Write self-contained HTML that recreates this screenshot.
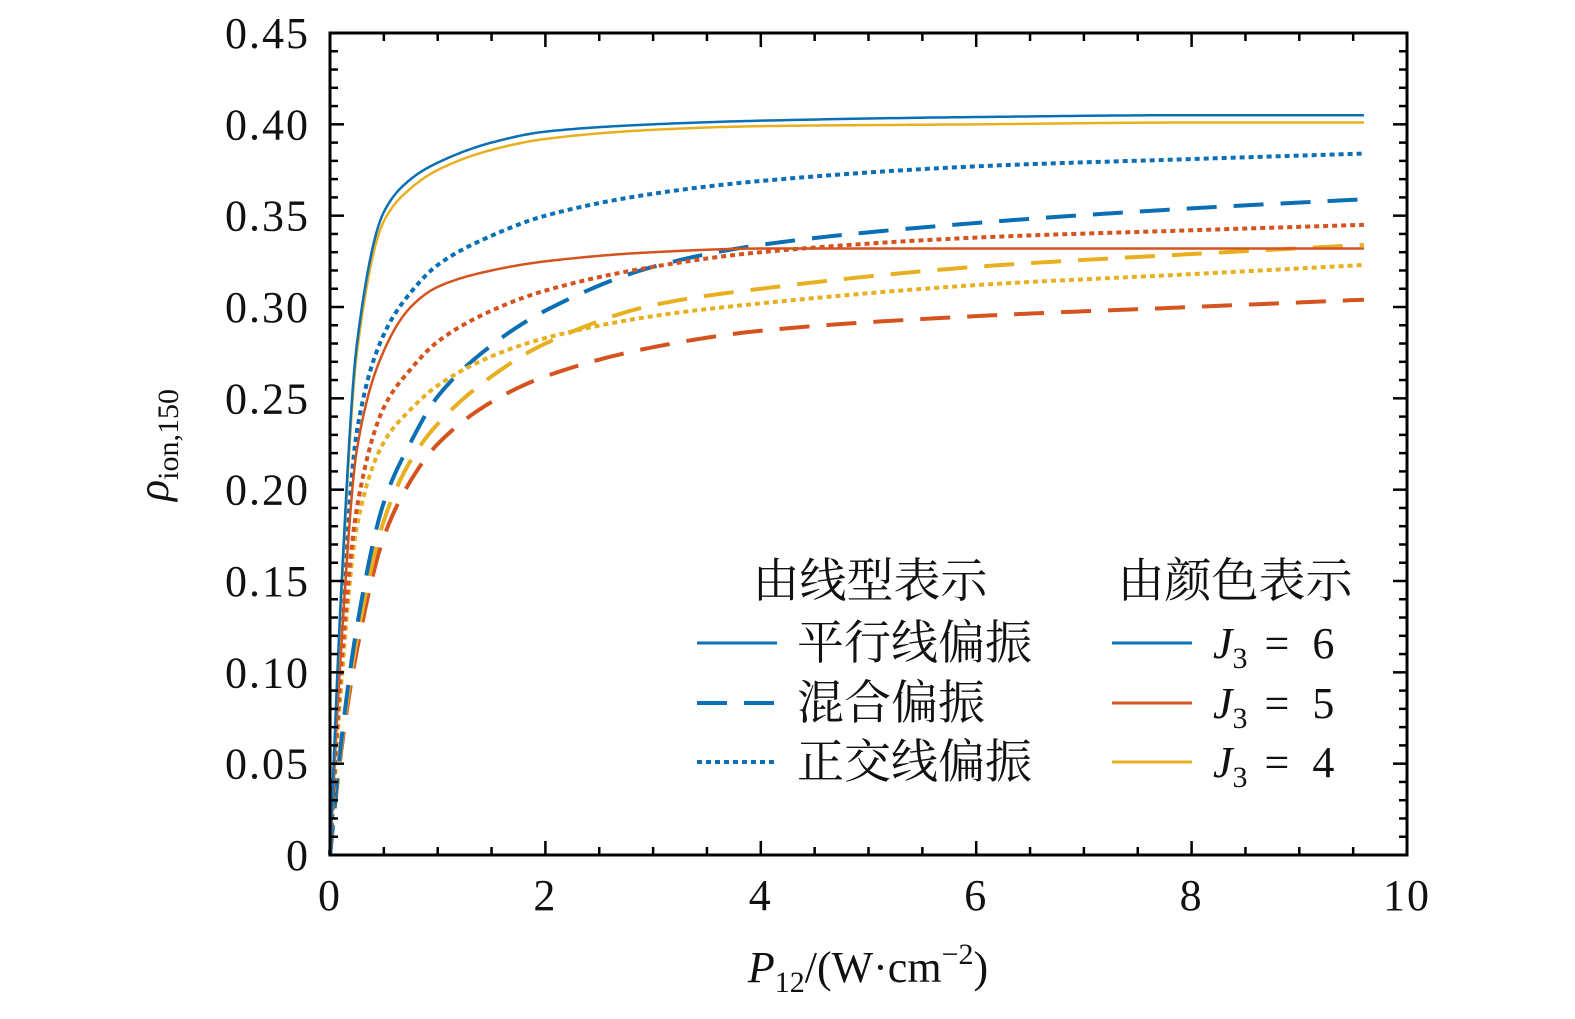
<!DOCTYPE html>
<html><head><meta charset="utf-8"><style>
html,body{margin:0;padding:0;background:#fff;}
svg text{font-family:"Liberation Serif","Noto Serif CJK SC",serif;fill:#111;}
</style></head><body>
<svg id="chart" width="1575" height="1014" viewBox="0 0 1575 1014" xmlns="http://www.w3.org/2000/svg">
<g id="plot"></g>
<g id="axes"></g>
<g id="legend">
<text x="870" y="597" font-size="47" text-anchor="middle">由线型表示</text>
<text x="1235" y="597" font-size="47" text-anchor="middle">由颜色表示</text>
<line x1="697" y1="643" x2="777" y2="643" stroke="#0a6fb5" stroke-width="3"/>
<line x1="697" y1="703" x2="777" y2="703" stroke="#0a6fb5" stroke-width="4" stroke-dasharray="30,17"/>
<line x1="697" y1="762" x2="777" y2="762" stroke="#0a6fb5" stroke-width="4" stroke-dasharray="5,4"/>
<text x="797" y="659" font-size="47">平行线偏振</text>
<text x="797" y="719" font-size="47">混合偏振</text>
<text x="797" y="778" font-size="47">正交线偏振</text>
<line x1="1112" y1="643" x2="1192" y2="643" stroke="#0a6fb5" stroke-width="3"/>
<line x1="1112" y1="703" x2="1192" y2="703" stroke="#d4531f" stroke-width="3"/>
<line x1="1112" y1="762" x2="1192" y2="762" stroke="#e8b020" stroke-width="3"/>
<text x="1213" y="658" font-size="44" font-style="italic">J<tspan font-size="30" font-style="normal" dy="10">3</tspan><tspan font-style="normal" dy="-10" letter-spacing="6"> = 6</tspan></text>
<text x="1213" y="718" font-size="44" font-style="italic">J<tspan font-size="30" font-style="normal" dy="10">3</tspan><tspan font-style="normal" dy="-10" letter-spacing="6"> = 5</tspan></text>
<text x="1213" y="777" font-size="44" font-style="italic">J<tspan font-size="30" font-style="normal" dy="10">3</tspan><tspan font-style="normal" dy="-10" letter-spacing="6"> = 4</tspan></text>
</g>
<text x="868" y="982" font-size="44" text-anchor="middle"><tspan font-style="italic">P</tspan><tspan font-size="30" dy="10">12</tspan><tspan dy="-10">/(W·cm</tspan><tspan font-size="30" dy="-18">−2</tspan><tspan dy="18">)</tspan></text>
<text transform="translate(168,445) rotate(-90)" font-size="44" text-anchor="middle"><tspan font-style="italic">ρ</tspan><tspan font-size="30" dy="10">ion,150</tspan></text>
</svg>
<script>
const xs = [0, 0.1, 0.25, 0.5, 0.75, 1, 1.5, 2, 3, 4, 6, 8, 9.6];
const parJ6 = [0, 0.14, 0.28, 0.352, 0.370, 0.379, 0.390, 0.396, 0.400, 0.402, 0.404, 0.405, 0.405];
const parJ5 = [0, 0.11, 0.222, 0.276, 0.300, 0.311, 0.320, 0.325, 0.330, 0.332, 0.332, 0.332, 0.332];
const parJ4 = [0, 0.135, 0.275, 0.347, 0.365, 0.375, 0.386, 0.392, 0.397, 0.399, 0.400, 0.401, 0.401];
const mixJ6 = [0, 0.06, 0.125, 0.193, 0.226, 0.251, 0.279, 0.298, 0.322, 0.334, 0.346, 0.354, 0.359];
const mixJ5 = [0, 0.055, 0.112, 0.174, 0.205, 0.225, 0.248, 0.262, 0.278, 0.287, 0.295, 0.300, 0.304];
const mixJ4 = [0, 0.058, 0.118, 0.183, 0.216, 0.236, 0.262, 0.280, 0.301, 0.310, 0.322, 0.329, 0.334];
const ortJ6 = [0, 0.12, 0.232, 0.285, 0.308, 0.323, 0.339, 0.350, 0.362, 0.369, 0.377, 0.381, 0.384];
const ortJ5 = [0, 0.10, 0.190, 0.245, 0.266, 0.281, 0.298, 0.309, 0.322, 0.330, 0.338, 0.342, 0.345];
const ortJ4 = [0, 0.09, 0.180, 0.226, 0.244, 0.257, 0.273, 0.283, 0.295, 0.302, 0.312, 0.318, 0.323];
const xTicks = [0, 2, 4, 6, 8, 10];
const yTicks = [0, 0.05, 0.10, 0.15, 0.20, 0.25, 0.30, 0.35, 0.40, 0.45];
const yTickLabels = ["0", "0.05", "0.10", "0.15", "0.20", "0.25", "0.30", "0.35", "0.40", "0.45"];

const X0 = 330, X1 = 1407, Y0 = 855, Y1 = 33;
const sx = v => X0 + (X1 - X0) * v / 10;
const sy = v => Y0 - (Y0 - Y1) * v / 0.45;
const NS = "http://www.w3.org/2000/svg";
const plot = document.getElementById('plot');
const axes = document.getElementById('axes');
const BLUE = "#0a6fb5", RED = "#d4531f", YEL = "#e8b020";

function monotone(ys) {
  const n = xs.length, d = [], m = [];
  for (let i = 0; i < n - 1; i++) d.push((ys[i + 1] - ys[i]) / (xs[i + 1] - xs[i]));
  m[0] = d[0]; m[n - 1] = d[n - 2];
  for (let i = 1; i < n - 1; i++) {
    if (d[i - 1] * d[i] <= 0) m[i] = 0;
    else { const h0 = xs[i] - xs[i - 1], h1 = xs[i + 1] - xs[i]; const w1 = 2 * h1 + h0, w2 = h1 + 2 * h0; m[i] = (w1 + w2) / (w1 / d[i - 1] + w2 / d[i]); }
  }
  let pts = [];
  for (let i = 0; i < n - 1; i++) {
    const h = xs[i + 1] - xs[i];
    for (let k = 0; k < 30; k++) {
      const t = k / 30, t2 = t * t, t3 = t2 * t;
      const y = (2 * t3 - 3 * t2 + 1) * ys[i] + (t3 - 2 * t2 + t) * h * m[i] + (-2 * t3 + 3 * t2) * ys[i + 1] + (t3 - t2) * h * m[i + 1];
      pts.push(sx(xs[i] + t * h).toFixed(2) + ',' + sy(y).toFixed(2));
    }
  }
  pts.push(sx(xs[n - 1]) + ',' + sy(ys[n - 1]));
  return 'M' + pts.join(' L');
}
const series = [
  [mixJ5, RED, "30,17", 4, 'line-mixed-j5'],
  [mixJ4, YEL, "30,17", 4, 'line-mixed-j4'],
  [mixJ6, BLUE, "30,17", 4, 'line-mixed-j6'],
  [ortJ4, YEL, "5,4", 4, 'line-orthogonal-j4'],
  [ortJ5, RED, "5,4", 4, 'line-orthogonal-j5'],
  [ortJ6, BLUE, "5,4", 4, 'line-orthogonal-j6'],
  [parJ5, RED, null, 2.5, 'line-parallel-j5'],
  [parJ4, YEL, null, 2.5, 'line-parallel-j4'],
  [parJ6, BLUE, null, 2.5, 'line-parallel-j6'],
];
series.forEach(s => {
  const el = document.createElementNS(NS, 'path');
  el.setAttribute('d', monotone(s[0]));
  el.setAttribute('fill', 'none');
  el.setAttribute('stroke', s[1]);
  el.setAttribute('stroke-width', s[3]);
  if (s[2]) el.setAttribute('stroke-dasharray', s[2]);
  
  
  plot.appendChild(el);
});

const frame = document.createElementNS(NS, 'rect');
frame.setAttribute('x', X0); frame.setAttribute('y', Y1);
frame.setAttribute('width', X1 - X0); frame.setAttribute('height', Y0 - Y1);
frame.setAttribute('fill', 'none'); frame.setAttribute('stroke', '#000'); frame.setAttribute('stroke-width', 3);


axes.appendChild(frame);

function tick(x1, y1, x2, y2, name) {
  const l = document.createElementNS(NS, 'line');
  l.setAttribute('x1', x1); l.setAttribute('y1', y1); l.setAttribute('x2', x2); l.setAttribute('y2', y2);
  l.setAttribute('stroke', '#000'); l.setAttribute('stroke-width', 2.5);
  
  
  axes.appendChild(l);
}
function label(x, y, t, anchor, name) {
  const e = document.createElementNS(NS, 'text');
  e.setAttribute('x', x); e.setAttribute('y', y); e.setAttribute('font-size', 44);
  e.setAttribute('letter-spacing', 2);
  e.setAttribute('text-anchor', anchor);
  e.textContent = t;
  
  
  axes.appendChild(e);
}
for (let i = 0; i <= 20; i++) {
  const v = i * 0.5, x = sx(v), major = i % 4 === 0;
  tick(x, Y0, x, Y0 - (major ? 14 : 8), 'x-tick');
  tick(x, Y1, x, Y1 + (major ? 14 : 8), 'x-tick-top');
}
for (let i = 0; i <= 45; i++) {
  const y = sy(i * 0.01), major = i % 5 === 0;
  tick(X0, y, X0 + (major ? 14 : 8), y, 'y-tick');
  tick(X1, y, X1 - (major ? 14 : 8), y, 'y-tick-right');
}
xTicks.forEach(v => label(sx(v), 910, String(v), 'middle', 'x-tick-label'));
yTicks.forEach((v, i) => label(310, sy(v) + 15, yTickLabels[i], 'end', 'y-tick-label'));
</script>
</body></html>
